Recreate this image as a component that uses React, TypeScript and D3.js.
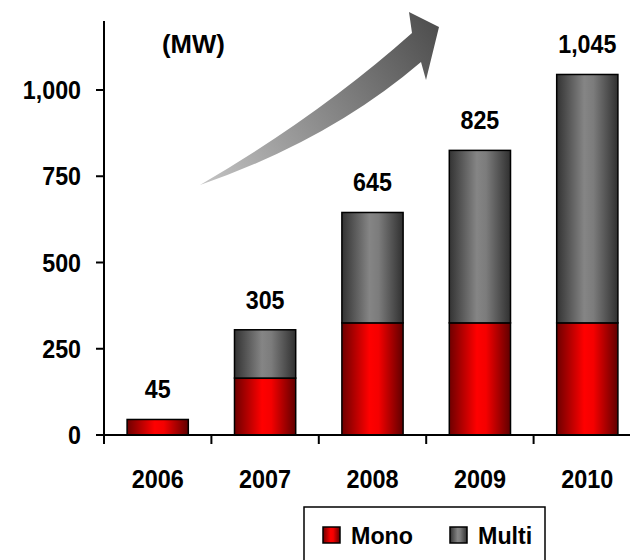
import React from 'react';
import * as d3 from 'd3';

const years = ['2006', '2007', '2008', '2009', '2010'];
const mono = [45, 165, 325, 325, 325];
const multi = [0, 140, 320, 500, 720];
const totals = [45, 305, 645, 825, 1045];
const yTicks = [0, 250, 500, 750, 1000];
const seriesNames = ['Mono', 'Multi'];

const W = 630;
const H = 560;
const FONT = '"Liberation Sans", Arial, sans-serif';

function Txt(props: {
  x: number;
  y: number;
  size: number;
  sx?: number;
  anchor?: string;
  children: React.ReactNode;
}) {
  const { x, y, size, sx = 1, anchor = 'start', children } = props;
  return (
    <text
      transform={`translate(${x},${y}) scale(${sx},1)`}
      textAnchor={anchor}
      fontSize={size}
      fontWeight="bold"
      fill="#000"
    >
      {children}
    </text>
  );
}

export default function App() {
  const x = d3
    .scaleBand<string>()
    .domain(years)
    .range([104, 641])
    .paddingInner(0.43)
    .paddingOuter(0.215);
  const y = d3.scaleLinear().domain([0, 1200]).range([435, 21]);
  const fmt = d3.format(',');
  const step = x.step();
  const x0 = 104;
  const boundaries = d3.range(years.length + 1).map((i) => x0 + i * step);

  const arrowPath =
    'M200,185 Q320,115 412,33 L409,12 L439,27 L426,80 L421,62 Q330,140 200,185 Z';

  return (
    <div style={{ position: 'absolute', left: 0, top: 0 }}>
      <svg width={W} height={H} style={{ display: 'block', fontFamily: FONT }}>
        <defs>
          <linearGradient id="gRed" x1="0" x2="1" y1="0" y2="0">
            <stop offset="0" stopColor="#6e0000" />
            <stop offset="0.45" stopColor="#ff0000" />
            <stop offset="0.6" stopColor="#f50000" />
            <stop offset="1" stopColor="#600000" />
          </linearGradient>
          <linearGradient id="gGray" x1="0" x2="1" y1="0" y2="0">
            <stop offset="0" stopColor="#333333" />
            <stop offset="0.45" stopColor="#858585" />
            <stop offset="0.6" stopColor="#7c7c7c" />
            <stop offset="1" stopColor="#303030" />
          </linearGradient>
          <linearGradient
            id="gArrow"
            gradientUnits="userSpaceOnUse"
            x1="200"
            y1="185"
            x2="439"
            y2="27"
          >
            <stop offset="0" stopColor="#c4c4c4" />
            <stop offset="1" stopColor="#4e4e4e" />
          </linearGradient>
        </defs>

        <path d={arrowPath} fill="url(#gArrow)" />

        {years.map((yr, i) => {
          const bx = x(yr)!;
          const bw = x.bandwidth();
          const monoTop = y(mono[i]);
          const totTop = y(mono[i] + multi[i]);
          return (
            <g key={yr}>
              <rect
                x={bx}
                y={monoTop}
                width={bw}
                height={y(0) - monoTop}
                fill="url(#gRed)"
                stroke="#000"
                strokeWidth={1.5}
              />
              {multi[i] > 0 && (
                <rect
                  x={bx}
                  y={totTop}
                  width={bw}
                  height={monoTop - totTop}
                  fill="url(#gGray)"
                  stroke="#000"
                  strokeWidth={1.5}
                />
              )}
              <Txt x={bx + bw / 2} y={totTop - 21} size={25} sx={0.93} anchor="middle">
                {fmt(totals[i])}
              </Txt>
              <Txt x={bx + bw / 2} y={488} size={26} sx={0.9} anchor="middle">
                {yr}
              </Txt>
            </g>
          );
        })}

        {/* axes */}
        <line x1={104} x2={104} y1={21} y2={444} stroke="#000" strokeWidth={2} />
        <line x1={96} x2={641} y1={y(0)} y2={y(0)} stroke="#000" strokeWidth={2} />
        {boundaries.map((bx, i) => (
          <line key={i} x1={bx} x2={bx} y1={y(0)} y2={444} stroke="#000" strokeWidth={2} />
        ))}
        {yTicks.map((t) => (
          <g key={t}>
            <line x1={96} x2={104} y1={y(t)} y2={y(t)} stroke="#000" strokeWidth={2} />
            <Txt x={81} y={y(t) + 9} size={25} sx={0.93} anchor="end">
              {fmt(t)}
            </Txt>
          </g>
        ))}

        <Txt x={162} y={53} size={25} sx={1.03}>
          (MW)
        </Txt>

        {/* legend */}
        <rect x={304} y={507} width={241} height={60} fill="#fff" stroke="#000" strokeWidth={1.5} />
        {seriesNames.map((name, i) => {
          const lx = i === 0 ? 323 : 450;
          return (
            <g key={name}>
              <rect
                x={lx}
                y={527}
                width={17}
                height={16}
                fill={i === 0 ? 'url(#gRed)' : 'url(#gGray)'}
                stroke="#000"
                strokeWidth={1.5}
              />
              <Txt x={lx + 28} y={544} size={24} sx={0.97}>
                {name}
              </Txt>
            </g>
          );
        })}
      </svg>
    </div>
  );
}
